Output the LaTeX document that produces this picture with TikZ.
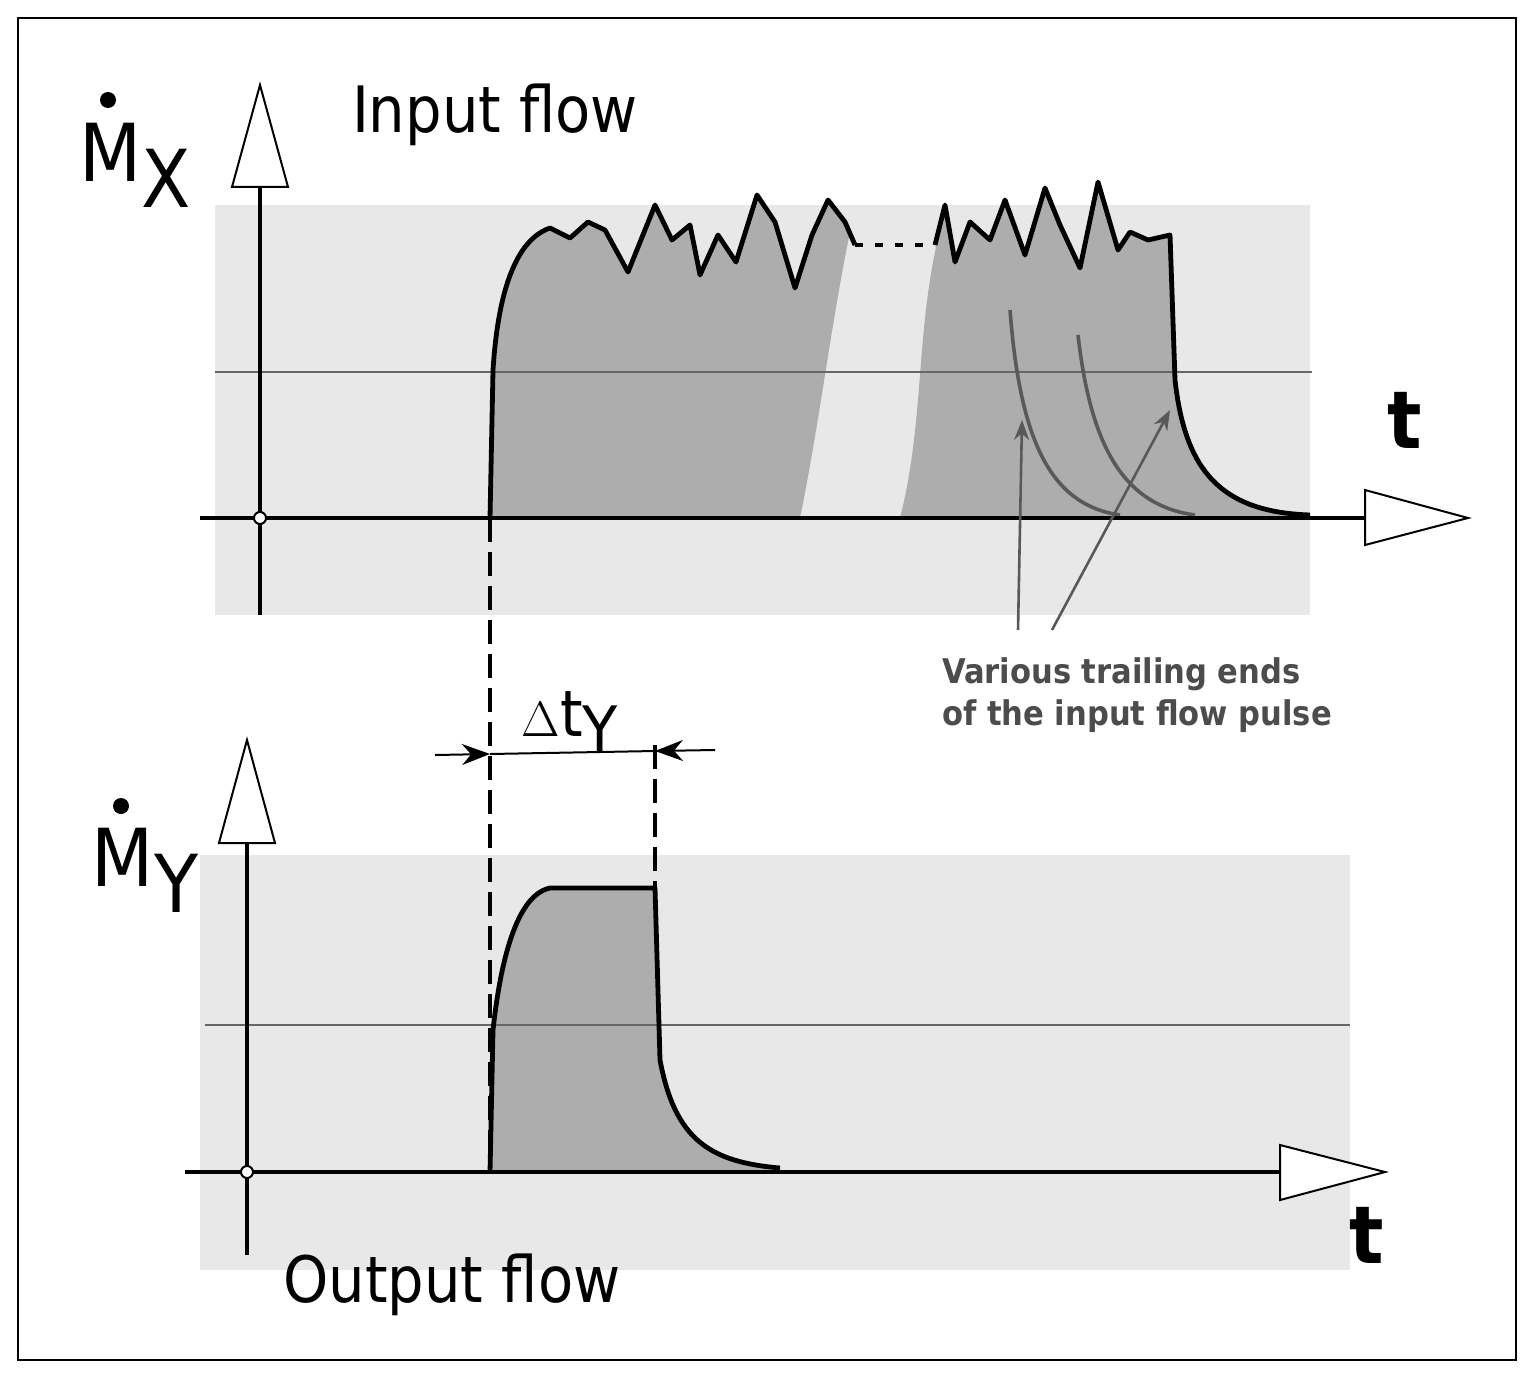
\documentclass[tikz,border=0pt]{standalone}
\usepackage{fontspec}
\setmainfont{DejaVu Sans Condensed}
\usetikzlibrary{arrows.meta}
\begin{document}
\begin{tikzpicture}[x=0.5pt,y=-0.5pt,
 bg/.style={fill=black!9,draw=none},
 puls/.style={fill=black!32},
 curve/.style={line width=2.4pt,line join=round},
 ax/.style={line width=2.2pt},
 head/.style={fill=white,draw=black,line width=1pt},
 lbl/.style={font=\fontsize{32}{36}\selectfont},
 big/.style={font=\fontsize{40}{44}\selectfont},
 note/.style={font=\bfseries\fontsize{17}{21}\selectfont,text=black!70,align=left}]
\useasboundingbox (0,0) rectangle (1534,1380);
\draw[line width=0.8pt] (18,18) rectangle (1516,1360);
% backgrounds
\fill[bg] (215,205) rectangle (1310,615);
\fill[bg] (200,855) rectangle (1350,1270);
% pulse fills
\fill[puls] (490,518) -- (493,370) .. controls (500,260) and (530,235) .. (550,228)
 -- (570,238) -- (588,222) -- (605,230) -- (628,272) -- (655,205) -- (672,240) -- (690,225) -- (700,275) -- (718,235) -- (736,262) -- (757,195) -- (775,222) -- (795,288) -- (812,235) -- (828,200) -- (845,222) -- (850,232) .. controls (830,330) and (820,420) .. (800,518) -- cycle;
\fill[puls] (945,205) -- (955,262) -- (970,222) -- (990,240) -- (1005,200) -- (1025,255) -- (1045,188) -- (1060,225) -- (1080,268) -- (1098,182) -- (1118,250) -- (1130,232) -- (1148,240) -- (1170,235) -- (1175,380) .. controls (1185,470) and (1220,512) .. (1310,515) -- (1310,518) -- (900,518) .. controls (925,420) and (915,330) .. (940,230) -- cycle;
\fill[puls] (490,1172) -- (493,1030) .. controls (505,920) and (530,892) .. (550,888) -- (655,888) -- (660,1060) .. controls (675,1140) and (710,1162) .. (780,1168) -- (780,1172) -- cycle;
% grid lines
\draw[black!60,line width=1pt] (215,372) -- (1312,372);
\draw[black!60,line width=1pt] (205,1025) -- (1350,1025);
% trailing curves
\draw[black!65,line width=1.8pt] (1010,310) .. controls (1020,440) and (1050,505) .. (1120,515);
\draw[black!65,line width=1.8pt] (1078,335) .. controls (1090,440) and (1120,505) .. (1195,515);
% top curve
\draw[curve] (490,518) -- (493,370) .. controls (500,260) and (530,235) .. (550,228)
 -- (570,238) -- (588,222) -- (605,230) -- (628,272) -- (655,205) -- (672,240) -- (690,225) -- (700,275) -- (718,235) -- (736,262) -- (757,195) -- (775,222) -- (795,288) -- (812,235) -- (828,200) -- (845,222) -- (855,245);
\draw[curve,dash pattern=on 4pt off 6pt] (855,245) -- (935,245);
\draw[curve] (935,245) -- (945,205) -- (955,262) -- (970,222) -- (990,240) -- (1005,200) -- (1025,255) -- (1045,188) -- (1060,225) -- (1080,268) -- (1098,182) -- (1118,250) -- (1130,232) -- (1148,240) -- (1170,235) -- (1175,380) .. controls (1185,470) and (1220,512) .. (1310,515);
% axes top
\draw[ax] (260,615) -- (260,187);
\draw[ax] (200,518) -- (1365,518);
\draw[head] (232,187) -- (288,187) -- (260,85) -- cycle;
\draw[head] (1365,490) -- (1365,545) -- (1468,518) -- cycle;
\draw[fill=white,line width=1pt] (260,518) circle (6);
% bottom curve
\draw[curve] (490,1172) -- (493,1030) .. controls (505,920) and (530,892) .. (550,888) -- (655,888) -- (660,1060) .. controls (675,1140) and (710,1162) .. (780,1168);
\draw[ax] (247,1255) -- (247,843);
\draw[ax] (185,1172) -- (1280,1172);
\draw[head] (219,843) -- (275,843) -- (247,740) -- cycle;
\draw[head] (1280,1145) -- (1280,1200) -- (1385,1172) -- cycle;
\draw[fill=white,line width=1pt] (247,1172) circle (6);
% dashed
\draw[line width=2.2pt,dash pattern=on 12pt off 5pt] (490,518) -- (490,1172);
\draw[line width=2.2pt,dash pattern=on 12pt off 5pt] (655,745) -- (655,888);
% delta t
\coordinate (d1) at (435,755); \coordinate (d2) at (715,750);
\draw[line width=1pt,-{Stealth[length=14pt]}] (d1) -- (490,754);
\draw[line width=1pt] (490,754) -- (655,751);
\draw[line width=1pt,-{Stealth[length=14pt]}] (d2) -- (655,751);
\node[lbl] (dt) at (570,722) {$\Delta$t\raisebox{-0.45ex}{Y}};
% pointers
\draw[black!65,line width=1.3pt,-{Stealth[length=10pt]}] (1018,630) -- (1022,420);
\draw[black!65,line width=1.3pt,-{Stealth[length=10pt]}] (1052,630) -- (1170,410);
% labels
\node[big] (mx) at (135,165) {M\raisebox{-0.6ex}{X}};
\fill (108,100) circle (8);
\node[big] (my) at (145,870) {M\raisebox{-0.6ex}{Y}};
\fill (121,806) circle (8);
\node[lbl] (in) at (495,115) {Input flow};
\node[lbl] (out) at (452,1285) {Output flow};
\node[big,font=\bfseries\fontsize{40}{44}\selectfont] (t1) at (1405,420) {t};
\node[big,font=\bfseries\fontsize{40}{44}\selectfont] (t2) at (1367,1235) {t};
\node[note] (nt) at (1137,695) {Various trailing ends\\of the input flow pulse};
\end{tikzpicture}
\end{document}
